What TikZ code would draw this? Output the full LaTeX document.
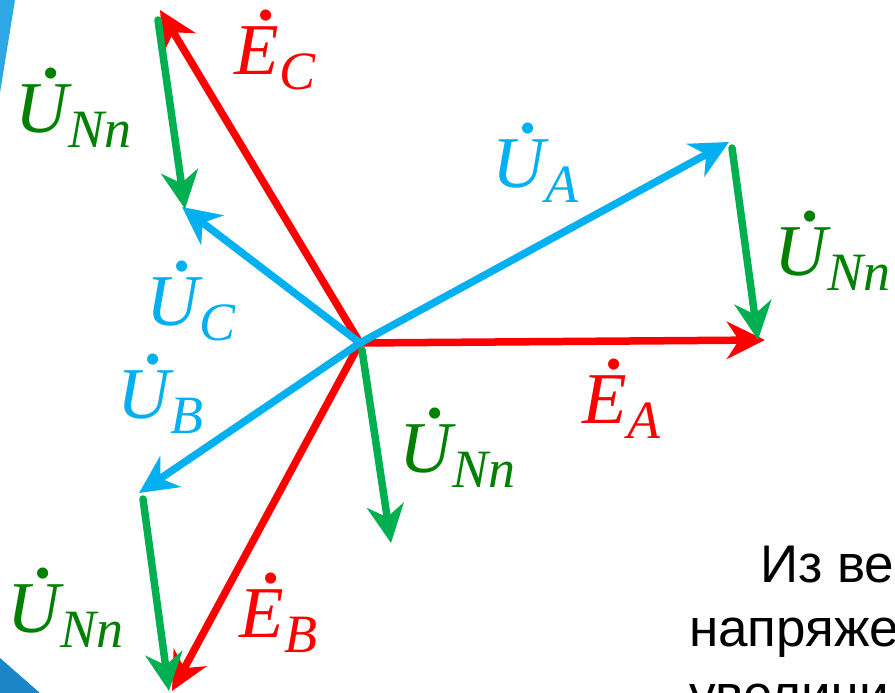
\documentclass[tikz,border=0pt]{standalone}
\usepackage{fontspec}
\newfontfamily\ruf{Liberation Sans}
\newfontfamily\labf{Liberation Serif}
\usetikzlibrary{arrows.meta}
\definecolor{vred}{HTML}{FF0000}
\definecolor{vblue}{HTML}{00B0F0}
\definecolor{vgreen}{HTML}{00B050}
\definecolor{tgreen}{HTML}{008000}
\definecolor{decoA}{HTML}{2EA8E5}
\definecolor{decoB}{HTML}{1A86C8}
\newsavebox\labbox
\newcommand\vlab[2]{\sbox\labbox{\labf\itshape #1}%
  \hbox{\rlap{\hbox to \wd\labbox{\hss\kern18pt\raisebox{-5pt}{\fontsize{105}{105}\selectfont\labf ˙}\hss}}\usebox\labbox\kern1pt\raisebox{-15pt}{\fontsize{54}{60}\selectfont\labf\itshape #2}}}
\tikzset{
  vec/.style={line width=7.5pt, line cap=round, -{Stealth[length=38pt,width=37pt,inset=12pt]}},
  lab/.style={inner sep=0pt, anchor=base west, font=\fontsize{73}{80}\selectfont},
  rutext/.style={inner sep=0pt, anchor=base west, font=\ruf\fontsize{53}{66}\selectfont, text=black}
}
\begin{document}
\begin{tikzpicture}[x=1pt,y=-1pt]
\useasboundingbox (0,0) rectangle (895,693);
\clip (0,0) rectangle (895,693);
\fill[white] (0,0) rectangle (895,693);
% decorations
\fill[decoA] (0,0) -- (15,0) -- (0,93) -- cycle;
\fill[decoB] (0,658) -- (40,693) -- (0,693) -- cycle;
% coordinates
\coordinate (O) at (360,343);
\coordinate (EA) at (765,340);
\coordinate (UA) at (729,142);
\coordinate (EC) at (160,10);
\coordinate (UC) at (182,207);
\coordinate (UB) at (139,493);
\coordinate (EB) at (172,691);
\coordinate (nA1) at (732,148);
\coordinate (nA2) at (758,340);
\coordinate (nC1) at (158,20);
\coordinate (nC2) at (185,209);
\coordinate (nB1) at (143,499);
\coordinate (nB2) at (169,691);
\coordinate (nO1) at (362,350);
\coordinate (nO2) at (391,543);
% red
\draw[vec, vred] (O) -- (EA);
\draw[vec, vred] (O) -- (EC);
\draw[vec, vred] (O) -- (EB);
% blue
\draw[vec, vblue] (O) -- (UA);
\draw[vec, vblue] (O) -- (UC);
\draw[vec, vblue] (O) -- (UB);
% green
\draw[vec, vgreen] (nA1) -- (nA2);
\draw[vec, vgreen] (nC1) -- (nC2);
\draw[vec, vgreen] (nB1) -- (nB2);
\draw[vec, vgreen] (nO1) -- (nO2);
% labels
\node[lab, text=vred] (lEC) at (234,75) {\vlab{E}{C}};
\node[lab, text=vred] (lEA) at (582,423) {\vlab{E}{A}};
\node[lab, text=vred] (lEB) at (239,637) {\vlab{E}{B}};
\node[lab, text=vblue] (lUA) at (492,187) {\vlab{U}{A}};
\node[lab, text=vblue] (lUC) at (146,325) {\vlab{U}{C}};
\node[lab, text=vblue] (lUB) at (117,418) {\vlab{U}{B}};
\node[lab, text=tgreen] (lN1) at (15,132) {\vlab{U}{Nn}};
\node[lab, text=tgreen] (lN2) at (774,275) {\vlab{U}{Nn}};
\node[lab, text=tgreen] (lN3) at (399,472) {\vlab{U}{Nn}};
\node[lab, text=tgreen] (lN4) at (7,632) {\vlab{U}{Nn}};
% text
\node[rutext] (t1) at (760,582) {Из ве};
\node[rutext] (t2) at (689,646) {напряже};
\node[rutext] (t3) at (689,712) {увеличи};
\end{tikzpicture}
\end{document}
